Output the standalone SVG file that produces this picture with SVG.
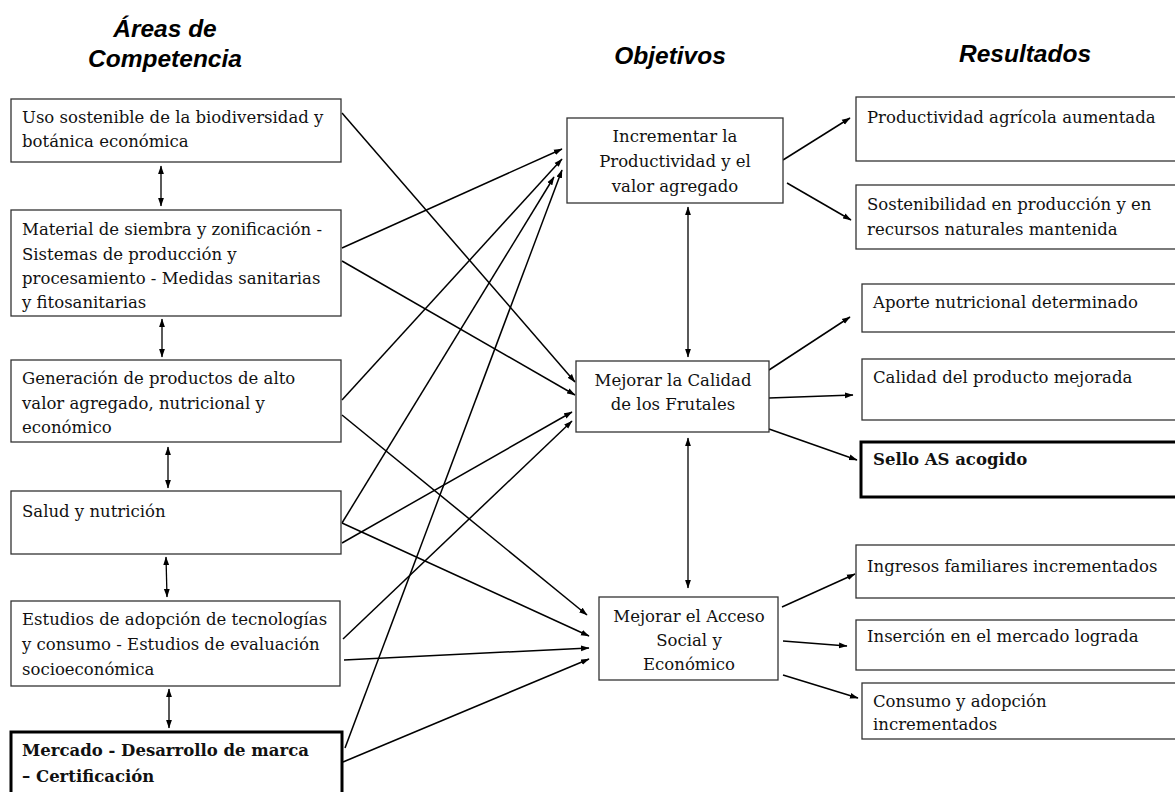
<svg xmlns="http://www.w3.org/2000/svg" width="1175" height="792" viewBox="0 0 1175 792">
<defs>
<marker id="ah" markerWidth="9" markerHeight="7" refX="8" refY="3.5" orient="auto-start-reverse" markerUnits="userSpaceOnUse">
<path d="M0,0.6 L8.5,3.5 L0,6.4 z" fill="#000"/>
</marker>
<style>
.hd{font-family:"Liberation Sans",Arial,sans-serif;font-weight:bold;font-style:italic;font-size:24.5px;fill:#000;text-anchor:middle}
.bx{fill:#fff;stroke:#333;stroke-width:1.3}
.bb{fill:#fff;stroke:#000;stroke-width:3}
.t{font-family:"DejaVu Serif","Liberation Serif",serif;font-size:16.5px;fill:#111}
.tb{font-family:"DejaVu Serif","Liberation Serif",serif;font-size:16.5px;font-weight:bold;fill:#111}
.c{text-anchor:middle}
.ln{stroke:#000;stroke-width:1.5;fill:none;marker-end:url(#ah)}
.bi{stroke:#000;stroke-width:1.3;fill:none;marker-start:url(#ah);marker-end:url(#ah)}
</style>
</defs>
<rect width="1175" height="792" fill="#fff"/>
<g id="headings">
<text class="hd" x="165" y="37">Áreas de</text>
<text class="hd" x="165" y="67">Competencia</text>
<text class="hd" x="670" y="64">Objetivos</text>
<text class="hd" x="1025" y="62">Resultados</text>
</g>
<g id="connectors">
<line class="bi" x1="161" y1="166" x2="161" y2="206"/>
<line class="bi" x1="162" y1="319" x2="162" y2="357"/>
<line class="bi" x1="168" y1="447" x2="168" y2="488"/>
<line class="bi" x1="166" y1="557" x2="167" y2="597"/>
<line class="bi" x1="169" y1="689" x2="169" y2="728"/>
<line class="bi" x1="688" y1="207" x2="688" y2="357"/>
<line class="bi" x1="688" y1="438" x2="688" y2="588"/>
<line class="ln" x1="342" y1="113" x2="575" y2="382"/>
<line class="ln" x1="342" y1="248" x2="562" y2="149"/>
<line class="ln" x1="342" y1="261" x2="575" y2="395"/>
<line class="ln" x1="342" y1="400" x2="562" y2="159"/>
<line class="ln" x1="342" y1="415" x2="587" y2="615"/>
<line class="ln" x1="342" y1="523" x2="554" y2="177"/>
<line class="ln" x1="342" y1="543" x2="572" y2="412"/>
<line class="ln" x1="342" y1="523" x2="589" y2="636"/>
<line class="ln" x1="343" y1="639" x2="572" y2="421"/>
<line class="ln" x1="344" y1="660" x2="589" y2="648"/>
<line class="ln" x1="345" y1="748" x2="562" y2="170"/>
<line class="ln" x1="343" y1="762" x2="589" y2="659"/>
<line class="ln" x1="783" y1="160" x2="850" y2="118"/>
<line class="ln" x1="787" y1="183" x2="851" y2="220"/>
<line class="ln" x1="769" y1="370" x2="850" y2="317"/>
<line class="ln" x1="769" y1="398" x2="853" y2="395"/>
<line class="ln" x1="769" y1="429" x2="857" y2="460"/>
<line class="ln" x1="782" y1="607" x2="855" y2="574"/>
<line class="ln" x1="783" y1="641" x2="847" y2="646"/>
<line class="ln" x1="783" y1="675" x2="858" y2="698"/>
</g>
<g id="a1"><rect class="bx" x="11" y="99" width="330" height="63"/>
<text class="t" x="22" y="123">Uso sostenible de la biodiversidad y</text>
<text class="t" x="22" y="147">botánica económica</text></g>
<g id="a2"><rect class="bx" x="11" y="210" width="330" height="106"/>
<text class="t" x="22" y="235">Material de siembra y zonificación -</text>
<text class="t" x="22" y="260">Sistemas de producción y</text>
<text class="t" x="22" y="284">procesamiento - Medidas sanitarias</text>
<text class="t" x="22" y="308">y fitosanitarias</text></g>
<g id="a3"><rect class="bx" x="11" y="360" width="330" height="82"/>
<text class="t" x="22" y="384">Generación de productos de alto</text>
<text class="t" x="22" y="409">valor agregado, nutricional y</text>
<text class="t" x="22" y="433">económico</text></g>
<g id="a4"><rect class="bx" x="11" y="491" width="330" height="63"/>
<text class="t" x="22" y="517">Salud y nutrición</text></g>
<g id="a5"><rect class="bx" x="11" y="601" width="329" height="85"/>
<text class="t" x="22" y="625">Estudios de adopción de tecnologías</text>
<text class="t" x="22" y="650">y consumo - Estudios de evaluación</text>
<text class="t" x="22" y="675">socioeconómica</text></g>
<g id="a6"><rect class="bb" x="11" y="732" width="331" height="70"/>
<text class="tb" x="22" y="756">Mercado - Desarrollo de marca</text>
<text class="tb" x="22" y="782">– Certificación</text></g>
<g id="o1"><rect class="bx" x="567" y="118" width="216" height="85"/>
<text class="t c" x="675" y="142">Incrementar la</text>
<text class="t c" x="675" y="167">Productividad y el</text>
<text class="t c" x="675" y="192">valor agregado</text></g>
<g id="o2"><rect class="bx" x="576" y="361" width="193" height="71"/>
<text class="t c" x="673" y="386">Mejorar la Calidad</text>
<text class="t c" x="673" y="410">de los Frutales</text></g>
<g id="o3"><rect class="bx" x="599" y="597" width="179" height="83"/>
<text class="t c" x="689" y="622">Mejorar el Acceso</text>
<text class="t c" x="689" y="646">Social y</text>
<text class="t c" x="689" y="670">Económico</text></g>
<g id="r1"><rect class="bx" x="856" y="97" width="330" height="64"/>
<text class="t" x="867" y="123">Productividad agrícola aumentada</text></g>
<g id="r2"><rect class="bx" x="856" y="185" width="330" height="64"/>
<text class="t" x="867" y="210">Sostenibilidad en  producción y en</text>
<text class="t" x="867" y="235">recursos naturales mantenida</text></g>
<g id="r3"><rect class="bx" x="862" y="284" width="330" height="48"/>
<text class="t" x="873" y="308">Aporte nutricional determinado</text></g>
<g id="r4"><rect class="bx" x="862" y="359" width="330" height="61"/>
<text class="t" x="873" y="383">Calidad del producto mejorada</text></g>
<g id="r5"><rect class="bb" x="861" y="442" width="330" height="55"/>
<text class="tb" x="873" y="465">Sello AS acogido</text></g>
<g id="r6"><rect class="bx" x="856" y="545" width="330" height="53"/>
<text class="t" x="867" y="572">Ingresos familiares incrementados</text></g>
<g id="r7"><rect class="bx" x="856" y="620" width="330" height="50"/>
<text class="t" x="867" y="642">Inserción en el mercado lograda</text></g>
<g id="r8"><rect class="bx" x="862" y="683" width="330" height="56"/>
<text class="t" x="873" y="707">Consumo y adopción</text>
<text class="t" x="873" y="730">incrementados</text></g>
</svg>
